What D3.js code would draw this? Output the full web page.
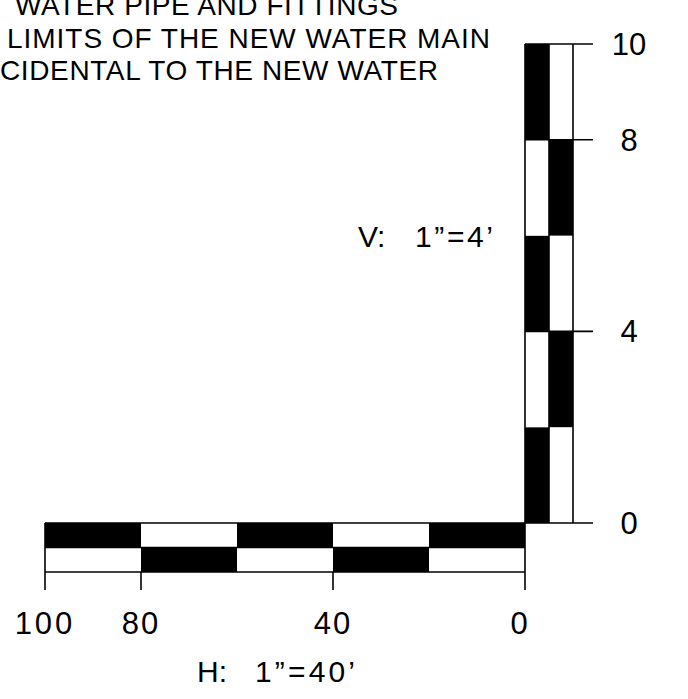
<!DOCTYPE html>
<html><head><meta charset="utf-8">
<script src="https://cdn.jsdelivr.net/npm/d3@7"></script>
<style>body{margin:0;background:#fff}svg{display:block}text{font-family:"Liberation Sans",Arial,sans-serif;fill:#000}</style>
</head><body>
<script>
const noteLines = ["WATER PIPE AND FITTINGS","LIMITS OF THE NEW WATER MAIN","CIDENTAL TO THE NEW WATER"];
const hBreaks = [0,20,40,60,80,100];
const vBreaks = [0,2,4,6,8,10];
const hTicks = [100,80,40,0];
const vTicks = [10,8,4,0];
const hLabel = ["H:", "1\u201d=40\u2019"];
const vLabel = ["V:", "1\u201d=4\u2019"];

const W=688,H=699;
const svg=d3.select("body").append("svg").attr("width",W).attr("height",H);
const x=d3.scaleLinear().domain([100,0]).range([45,525]);
const y=d3.scaleLinear().domain([0,10]).range([523,44]);
const barH=24.5, barW=24;
const y0=y(0), x0=x(0);

// notes
const noteStart=[15,7,0], noteLen=[383,483,438], noteBase=[15,48,80];
svg.selectAll("text.note").data(noteLines).join("text").attr("class","note")
 .attr("x",(d,i)=>noteStart[i]).attr("y",(d,i)=>noteBase[i])
 .attr("font-size",28).attr("textLength",(d,i)=>noteLen[i]).attr("lengthAdjust","spacing").text(d=>d);

// horizontal bar segments
const hSeg=d3.pairs(hBreaks);
[0,1].forEach(row=>{
  svg.append("g").selectAll("rect").data(hSeg).join("rect")
   .attr("x",d=>x(d[1])).attr("width",d=>x(d[0])-x(d[1]))
   .attr("y",y0+row*barH).attr("height",barH)
   .attr("fill",(d,i)=>((i+row)%2===0)?"#000":"#fff");
});
const g=svg.append("g").attr("stroke","#000").attr("stroke-width",1.6).attr("fill","none");
[0,1,2].forEach(r=>g.append("line").attr("x1",x(100)).attr("x2",x(0)).attr("y1",y0+r*barH).attr("y2",y0+r*barH));
g.selectAll("line.ht").data(hTicks).join("line").attr("class","ht")
 .attr("x1",d=>x(d)).attr("x2",d=>x(d)).attr("y1",d=>(d===100||d===0)?y0:y0+2*barH).attr("y2",y0+2*barH+18);

// vertical bar segments
const vSeg=d3.pairs(vBreaks);
[0,1].forEach(col=>{
  svg.append("g").selectAll("rect").data(vSeg).join("rect")
   .attr("y",d=>y(d[1])).attr("height",d=>y(d[0])-y(d[1]))
   .attr("x",x0+col*barW).attr("width",barW)
   .attr("fill",(d,i)=>((i+col)%2===0)?"#000":"#fff");
});
const g2=svg.append("g").attr("stroke","#000").attr("stroke-width",1.6).attr("fill","none");
[0,1,2].forEach(c=>g2.append("line").attr("x1",x0+c*barW).attr("x2",x0+c*barW).attr("y1",y(10)).attr("y2",y0));
g2.selectAll("line.vt").data(vTicks).join("line").attr("class","vt")
 .attr("x1",x0).attr("x2",x0+2*barW+20).attr("y1",d=>y(d)).attr("y2",d=>y(d));

// labels
svg.selectAll("text.hl").data(hTicks).join("text").attr("class","hl")
 .attr("x",d=>d===0?x(d)-5:x(d)).attr("y",634).attr("text-anchor","middle").attr("font-size",31)
 .attr("letter-spacing",d=>String(d).length>2?3:2).text(d=>d);
svg.selectAll("text.vl").data(vTicks).join("text").attr("class","vl")
 .attr("x",629).attr("y",d=>y(d)+11).attr("text-anchor","middle").attr("font-size",31).text(d=>d);
function scaleLabel(parts, xs, lens, base){
  const t=svg.append("text").attr("y",base).attr("font-size",30);
  parts.forEach((p,i)=>{
    const s=t.append("tspan").attr("x",xs[i]).text(p);
    if(lens[i]) s.attr("textLength",lens[i]).attr("lengthAdjust","spacing");
  });
}
scaleLabel(hLabel,[197,255],[0,100],682);
scaleLabel(vLabel,[358,415],[0,78],247);
</script>
</body></html>
